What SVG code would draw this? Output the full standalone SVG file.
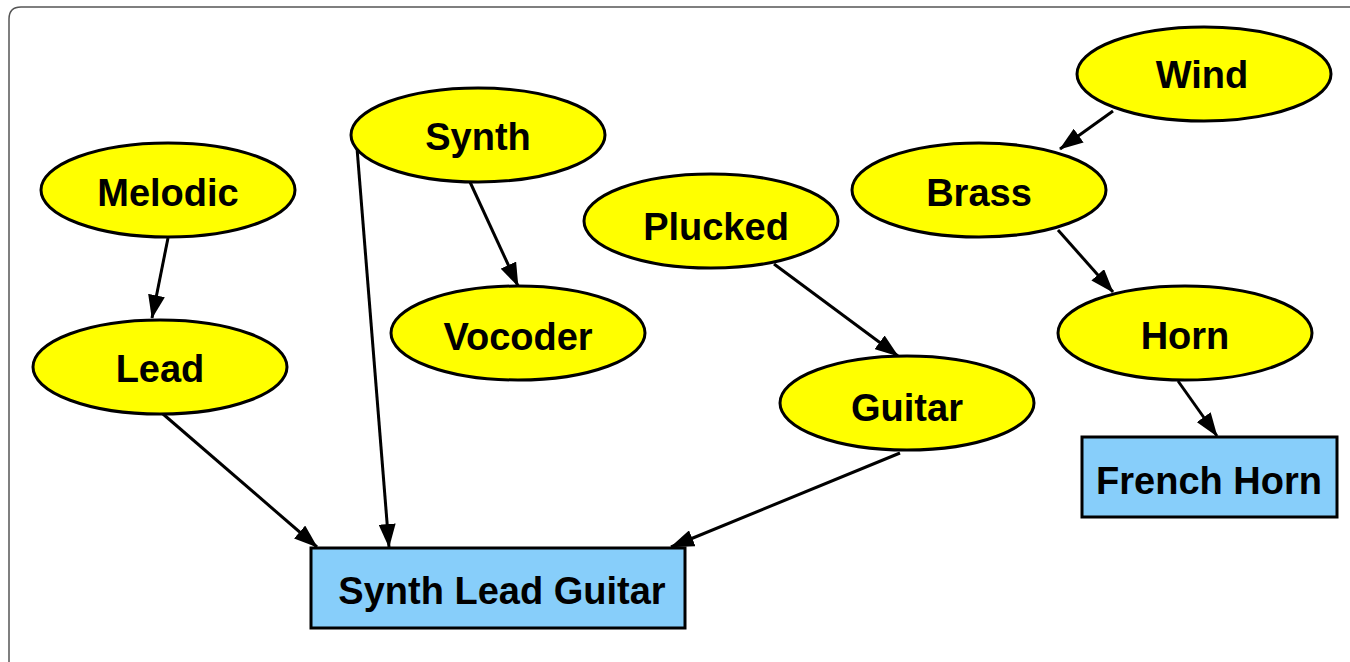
<svg xmlns="http://www.w3.org/2000/svg" width="1350" height="662" viewBox="0 0 1350 662">
  <defs>
    <style>
      .frame { fill: #ffffff; stroke: #555555; stroke-width: 1.5; }
      .ell { fill: #ffff00; stroke: #000000; stroke-width: 3; }
      .box { fill: #87cefa; stroke: #000000; stroke-width: 3; }
      .lbl { font-family: "Liberation Sans", Arial, Helvetica, sans-serif; font-weight: bold; font-size: 38px; fill: #000000; text-anchor: middle; }
      .edge { fill: none; stroke: #000000; stroke-width: 3; }
    </style>
    <marker id="arrow" viewBox="0 0 14 10" refX="13.5" refY="5" markerUnits="userSpaceOnUse" markerWidth="24" markerHeight="17" orient="auto">
      <path d="M0,0 L14,5 L0,10 Z" fill="#000000"/>
    </marker>
  </defs>

  <!-- background frame -->
  <rect x="0" y="0" width="1350" height="662" fill="#ffffff"/>
  <path class="frame" d="M9,664 L9,19 Q9,7 21,7 L1352,7"/>

  <g id="edges">
    <line class="edge" x1="168" y1="238" x2="152" y2="318" marker-end="url(#arrow)"/>
    <line class="edge" x1="470" y1="182" x2="518" y2="286" marker-end="url(#arrow)"/>
    <line class="edge" x1="357" y1="148" x2="389" y2="547" marker-end="url(#arrow)"/>
    <line class="edge" x1="163" y1="414" x2="317" y2="547" marker-end="url(#arrow)"/>
    <line class="edge" x1="900" y1="453" x2="671" y2="547" marker-end="url(#arrow)"/>
    <line class="edge" x1="774" y1="264" x2="898" y2="356" marker-end="url(#arrow)"/>
    <line class="edge" x1="1113" y1="111" x2="1060" y2="149" marker-end="url(#arrow)"/>
    <line class="edge" x1="1058" y1="230" x2="1113" y2="292" marker-end="url(#arrow)"/>
    <line class="edge" x1="1178" y1="381" x2="1217" y2="436" marker-end="url(#arrow)"/>
  </g>

  <g id="wind">
    <ellipse class="ell" cx="1204" cy="74" rx="127" ry="47"/>
    <text class="lbl" x="1202" y="88">Wind</text>
  </g>
  <g id="brass">
    <ellipse class="ell" cx="979" cy="190" rx="127" ry="47"/>
    <text class="lbl" x="979" y="206">Brass</text>
  </g>
  <g id="horn">
    <ellipse class="ell" cx="1185" cy="333" rx="127" ry="47"/>
    <text class="lbl" x="1185" y="349">Horn</text>
  </g>
  <g id="french-horn">
    <rect class="box" x="1082" y="437" width="255" height="80"/>
    <text class="lbl" x="1209" y="494">French Horn</text>
  </g>
  <g id="plucked">
    <ellipse class="ell" cx="711" cy="221" rx="127" ry="47"/>
    <text class="lbl" x="716" y="240">Plucked</text>
  </g>
  <g id="guitar">
    <ellipse class="ell" cx="907" cy="403" rx="127" ry="47"/>
    <text class="lbl" x="907" y="421">Guitar</text>
  </g>
  <g id="synth">
    <ellipse class="ell" cx="478" cy="135" rx="127" ry="47"/>
    <text class="lbl" x="478" y="150">Synth</text>
  </g>
  <g id="vocoder">
    <ellipse class="ell" cx="518" cy="333" rx="127" ry="47"/>
    <text class="lbl" x="518" y="350">Vocoder</text>
  </g>
  <g id="melodic">
    <ellipse class="ell" cx="168" cy="190" rx="127" ry="47"/>
    <text class="lbl" x="168" y="206">Melodic</text>
  </g>
  <g id="lead">
    <ellipse class="ell" cx="160" cy="367" rx="127" ry="47"/>
    <text class="lbl" x="160" y="382">Lead</text>
  </g>
  <g id="synth-lead-guitar">
    <rect class="box" x="311" y="548" width="374" height="80"/>
    <text class="lbl" x="502" y="604">Synth Lead Guitar</text>
  </g>
</svg>
